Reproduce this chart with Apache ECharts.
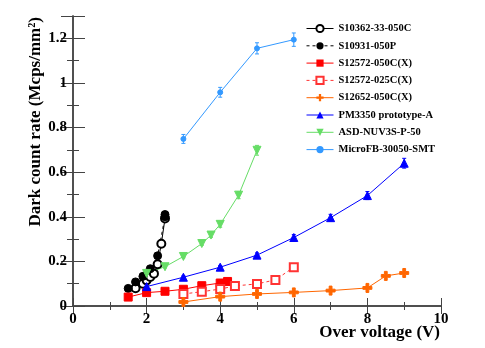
<!DOCTYPE html>
<html>
<head>
<meta charset="utf-8">
<script src="https://cdn.jsdelivr.net/npm/echarts@6/dist/echarts.min.js"></script>
<style>
  html, body { margin: 0; padding: 0; background: #fff; }
  #chart { width: 485px; height: 348px; }
</style>
</head>
<body>
<div id="chart"></div>
<script>
// data: [over voltage (V), dark count rate (Mcps/mm2)]
const s10362 = [[1.7, 0.08], [1.9, 0.1], [2.0, 0.115], [2.1, 0.13], [2.2, 0.145], [2.3, 0.187], [2.4, 0.279], [2.5, 0.392]];
const s10931 = [[1.5, 0.079], [1.7, 0.108], [1.9, 0.133], [2.1, 0.167], [2.3, 0.225], [2.5, 0.4], [2.5, 0.41]];
const s12572_050 = [[1.5, 0.04], [2.0, 0.06], [2.5, 0.066], [3.0, 0.075], [3.5, 0.091], [4.0, 0.103], [4.2, 0.11]];
const s12572_025 = [[3.0, 0.054], [3.5, 0.064], [4.0, 0.076], [4.4, 0.09], [5.0, 0.099], [5.5, 0.117], [6.0, 0.174]];
const s12652 = [[3.0, 0.018], [4.0, 0.042], [5.0, 0.054], [6.0, 0.061], [7.0, 0.069], [8.0, 0.081], [8.5, 0.135], [9.0, 0.148]];
const pm3350 = [[2.0, 0.087], [3.0, 0.129], [4.0, 0.174], [5.0, 0.228], [6.0, 0.307], [7.0, 0.396], [8.0, 0.495], [9.0, 0.64]];
const asd = [[2.0, 0.146], [2.5, 0.176], [3.0, 0.222], [3.5, 0.28], [3.75, 0.318], [4.0, 0.366], [4.5, 0.497], [5.0, 0.698]];
const microfb = [[3.0, 0.749], [4.0, 0.958], [5.0, 1.155], [6.0, 1.194]];

// error bar half-widths, one per point
const pm3350Err = [0.004, 0.006, 0.008, 0.01, 0.013, 0.015, 0.018, 0.022];
const asdErr = [0.004, 0.005, 0.006, 0.008, 0.01, 0.013, 0.016, 0.022];
const microfbErr = [0.02, 0.022, 0.025, 0.03];

const xTicks = [0, 2, 4, 6, 8, 10];

const font = 'Liberation Serif';
const crossPath = 'path://M-1,-3.2H1V-1H3.2V1H1V3.2H-1V1H-3.2V-1H-1Z';
const axisColor = '#444';

function errorSeries(points, errs, color) {
  return {
    type: 'custom',
    silent: true,
    z: 1,
    data: points.map((p, i) => [p[0], p[1] - errs[i], p[1] + errs[i]]),
    encode: { x: 0, y: [1, 2] },
    renderItem: function (params, api) {
      const lo = api.coord([api.value(0), api.value(1)]);
      const hi = api.coord([api.value(0), api.value(2)]);
      const c = 2;
      const st = { stroke: color, lineWidth: 1 };
      return {
        type: 'group',
        children: [
          { type: 'line', shape: { x1: lo[0], y1: lo[1], x2: hi[0], y2: hi[1] }, style: st },
          { type: 'line', shape: { x1: lo[0] - c, y1: lo[1], x2: lo[0] + c, y2: lo[1] }, style: st },
          { type: 'line', shape: { x1: hi[0] - c, y1: hi[1], x2: hi[0] + c, y2: hi[1] }, style: st }
        ]
      };
    }
  };
}

function lineSeries(name, data, color, symbol, size, dashed, extra) {
  return Object.assign({
    name: name,
    type: 'line',
    data: data,
    symbol: symbol,
    symbolSize: size,
    z: 3,
    itemStyle: { color: color, borderColor: color },
    lineStyle: { color: color, width: 1, type: dashed ? [3, 3] : 'solid' },
    emphasis: { disabled: true },
    animation: false
  }, extra || {});
}

function axisCommon(len) {
  return {
    axisLine: { show: true, lineStyle: { color: axisColor, width: 1.5 } },
    axisTick: { inside: true, length: len, lineStyle: { color: axisColor } },
    minorTick: { show: true, splitNumber: 2, length: len / 2, lineStyle: { color: axisColor } },
    splitLine: { show: false },
    minorSplitLine: { show: false }
  };
}

const labelStyle = { margin: 6, fontFamily: font, fontWeight: 'bold', fontSize: 15, color: '#000' };

const chart = echarts.init(document.getElementById('chart'));
chart.setOption({
  backgroundColor: '#fff',
  animation: false,
  grid: { left: 73, right: 44, top: 16, bottom: 42 },
  legend: {
    orient: 'vertical',
    left: 306,
    top: 23,
    padding: 0,
    itemWidth: 27,
    itemHeight: 9,
    itemGap: 6.3,
    lineStyle: { width: 1 },
    textStyle: { fontFamily: font, fontWeight: 'bold', fontSize: 10.5, color: '#000' },
    data: ['S10362-33-050C', 'S10931-050P', 'S12572-050C(X)', 'S12572-025C(X)',
      'S12652-050C(X)', 'PM3350 prototype-A', 'ASD-NUV3S-P-50', 'MicroFB-30050-SMT']
  },
  xAxis: [Object.assign({
    type: 'value', min: 0, max: 10, interval: 2,
    axisLabel: Object.assign({ formatter: v => (xTicks.indexOf(v) >= 0 ? String(v) : '') }, labelStyle)
  }, axisCommon(8)), Object.assign({
    type: 'value', position: 'top', min: 0, max: 10, interval: 2,
    axisLabel: { show: false }
  }, axisCommon(8))],
  yAxis: [Object.assign({
    type: 'value', min: 0, max: 1.3, interval: 0.2,
    axisLabel: Object.assign({
      showMaxLabel: false,
      formatter: v => String(Math.round(v * 10) / 10)
    }, labelStyle)
  }, axisCommon(12)), Object.assign({
    type: 'value', position: 'right', min: 0, max: 1.3, interval: 0.2,
    axisLabel: { show: false }
  }, axisCommon(12))],
  graphic: [{
    type: 'text', right: 45, bottom: 7,
    style: { text: 'Over voltage (V)', font: 'bold 17px "Liberation Serif"', fill: '#000' }
  }, {
    type: 'text', rotation: Math.PI / 2,
    x: 27, y: 17,
    style: {
      text: 'Dark count rate (Mcps/mm²)', font: 'bold 17px "Liberation Serif"', fill: '#000',
      align: 'right', verticalAlign: 'top'
    }
  }],
  series: [
    errorSeries(pm3350, pm3350Err, '#0000ff'),
    errorSeries(asd, asdErr, '#66dd66'),
    errorSeries(microfb, microfbErr, '#3399ff'),
    lineSeries('S10362-33-050C', s10362, '#000', 'emptyCircle', 8, false, { itemStyle: { color: '#000', borderColor: '#000', borderWidth: 1 } }),
    lineSeries('S10931-050P', s10931, '#000', 'circle', 8, true),
    lineSeries('S12572-050C(X)', s12572_050, '#ff0000', 'rect', 8, false),
    lineSeries('S12572-025C(X)', s12572_025, '#ff3333', 'emptyRect', 8, true, { itemStyle: { color: '#ff3333', borderColor: '#ff3333', borderWidth: 1 } }),
    lineSeries('S12652-050C(X)', s12652, '#ff6600', crossPath, 9, false),
    lineSeries('PM3350 prototype-A', pm3350, '#0000ff', 'triangle', 8, false),
    lineSeries('ASD-NUV3S-P-50', asd, '#66dd66', 'triangle', 8, false, { symbolRotate: 180 }),
    lineSeries('MicroFB-30050-SMT', microfb, '#3399ff', 'circle', 5, false)
  ]
});
</script>
</body>
</html>
